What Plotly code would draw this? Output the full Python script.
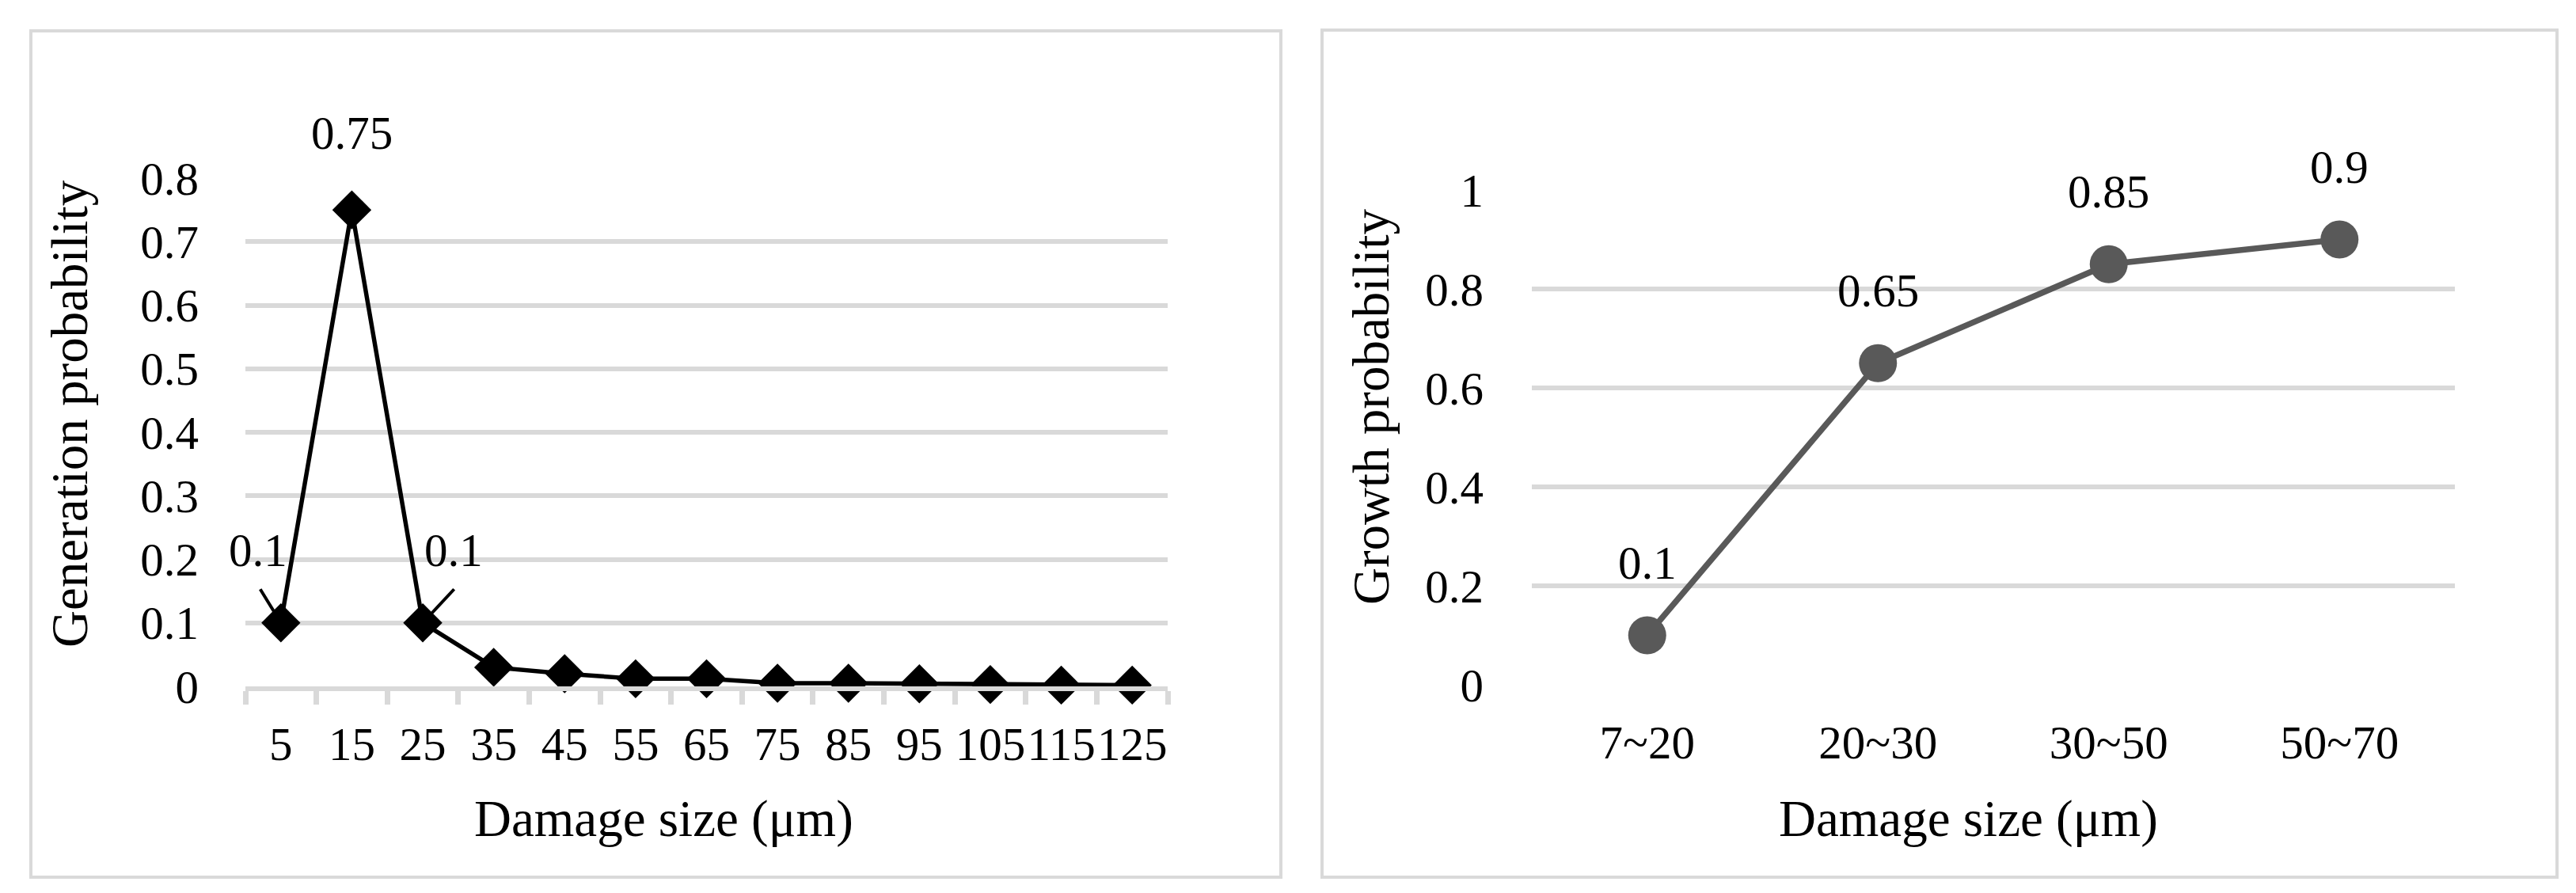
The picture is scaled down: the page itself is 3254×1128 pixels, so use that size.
import plotly.graph_objects as go

# ---------------- data ----------------
gen_sizes = ["5", "15", "25", "35", "45", "55", "65", "75", "85", "95", "105", "115", "125"]
gen_prob = [0.1, 0.75, 0.1, 0.03, 0.02, 0.012, 0.012, 0.005, 0.005, 0.004, 0.003, 0.002, 0.002]
gen_label_idx = [0, 1, 2]
gen_label_text = ["0.1", "0.75", "0.1"]

growth_sizes = ["7~20", "20~30", "30~50", "50~70"]
growth_prob = [0.1, 0.65, 0.85, 0.9]
growth_label_text = ["0.1", "0.65", "0.85", "0.9"]

gen_yticks = [0, 0.1, 0.2, 0.3, 0.4, 0.5, 0.6, 0.7, 0.8]
growth_yticks = [0, 0.2, 0.4, 0.6, 0.8, 1]

# ---------------- styling ----------------
W, H = 3254, 1128
FONT = "Liberation Serif"
GRID = "#D9D9D9"
TICK_SIZE = 59
TITLE_SIZE = 65
BLACK = "#000000"


def px(x):
    return x / W


def py(y):
    return 1 - y / H


fig = go.Figure()

fig.add_trace(go.Scatter(
    x=gen_sizes, y=gen_prob, mode="lines+markers",
    line=dict(color=BLACK, width=5.5),
    marker=dict(symbol="diamond", size=38, color=BLACK),
    cliponaxis=False, showlegend=False, xaxis="x", yaxis="y",
))

fig.add_trace(go.Scatter(
    x=growth_sizes, y=growth_prob, mode="lines+markers",
    line=dict(color="#595959", width=7.5),
    marker=dict(symbol="circle", size=48, color="#595959"),
    cliponaxis=False, showlegend=False, xaxis="x2", yaxis="y2",
))

lab_font = dict(family=FONT, size=TICK_SIZE, color=BLACK)
annotations = []
# data labels, left chart (x as category index): (xshift, yshift, leader line start dx, dy)
gen_offsets = [(-29, 92, (-27, -44)), (0, 97, None), (39, 92, (41, -44))]
for i, txt, (xs, ys, leader) in zip(gen_label_idx, gen_label_text, gen_offsets):
    annotations.append(dict(
        x=i, y=gen_prob[i], xref="x", yref="y", text=txt,
        showarrow=False, xshift=xs, yshift=ys, font=lab_font,
    ))
    if leader is not None:
        annotations.append(dict(
            x=i, y=gen_prob[i], xref="x", yref="y", text="",
            showarrow=True, arrowhead=0, arrowwidth=4, arrowcolor=BLACK,
            ax=leader[0], ay=leader[1], standoff=14,
        ))

# data labels, right chart
for j, (val, txt) in enumerate(zip(growth_prob, growth_label_text)):
    annotations.append(dict(
        x=j, y=val, xref="x2", yref="y2", text=txt,
        showarrow=False, yshift=92, font=lab_font,
    ))

# axis titles
title_font = dict(family=FONT, size=TITLE_SIZE, color=BLACK)
annotations += [
    dict(x=px(830), y=py(1026), xref="paper", yref="paper", text="Damage size (μm)",
         showarrow=False, font=title_font, xanchor="center", yanchor="middle"),
    dict(x=px(80), y=py(515), xref="paper", yref="paper", text="Generation probability",
         showarrow=False, font=title_font, textangle=-90, xanchor="center", yanchor="middle"),
    dict(x=px(2478), y=py(1026), xref="paper", yref="paper", text="Damage size (μm)",
         showarrow=False, font=title_font, xanchor="center", yanchor="middle"),
    dict(x=px(1724), y=py(505), xref="paper", yref="paper", text="Growth probability",
         showarrow=False, font=title_font, textangle=-90, xanchor="center", yanchor="middle"),
]

shapes = [
    dict(type="rect", xref="paper", yref="paper", x0=px(31), x1=px(1610), y0=py(1100), y1=py(31),
         line=dict(color=GRID, width=4), fillcolor="rgba(0,0,0,0)", layer="below"),
    dict(type="rect", xref="paper", yref="paper", x0=px(1662), x1=px(3222), y0=py(1100), y1=py(30),
         line=dict(color=GRID, width=4), fillcolor="rgba(0,0,0,0)", layer="below"),
]

tick_font = dict(family=FONT, size=TICK_SIZE, color=BLACK)

fig.update_layout(
    width=W, height=H, autosize=False,
    margin=dict(l=0, r=0, t=0, b=0),
    paper_bgcolor="#FFFFFF", plot_bgcolor="#FFFFFF",
    showlegend=False,
    annotations=annotations, shapes=shapes,
    xaxis=dict(
        domain=[px(302), px(1467)], anchor="y", type="category",
        categoryorder="array", categoryarray=gen_sizes,
        range=[-0.5, len(gen_sizes) - 0.5],
        showgrid=False, zeroline=False,
        showline=True, linecolor=GRID, linewidth=6,
        ticks="outside", ticklen=17, tickwidth=6.5, tickcolor=GRID, tickson="boundaries",
        tickfont=tick_font, tickangle=0, ticklabelstandoff=16,
        automargin=False, fixedrange=True,
    ),
    yaxis=dict(
        domain=[py(859), py(217)], anchor="x",
        range=[0, 0.8], tickvals=gen_yticks,
        showgrid=True, gridcolor=GRID, gridwidth=5.5,
        zeroline=False, showline=False, ticks="",
        tickfont=tick_font, ticklabelstandoff=58,
        automargin=False, fixedrange=True,
    ),
    xaxis2=dict(
        domain=[px(1927), px(3093)], anchor="y2", type="category",
        categoryorder="array", categoryarray=growth_sizes,
        range=[-0.5, len(growth_sizes) - 0.5],
        showgrid=False, zeroline=False, showline=False, ticks="",
        tickfont=tick_font, tickangle=0, ticklabelstandoff=33,
        automargin=False, fixedrange=True,
    ),
    yaxis2=dict(
        domain=[py(857), py(232)], anchor="x2",
        range=[0, 1], tickvals=growth_yticks,
        showgrid=True, gridcolor=GRID, gridwidth=5.5,
        zeroline=False, showline=False, ticks="",
        tickfont=tick_font, ticklabelstandoff=60,
        automargin=False, fixedrange=True,
    ),
)

fig.write_html("out.html", config={"displayModeBar": False})
